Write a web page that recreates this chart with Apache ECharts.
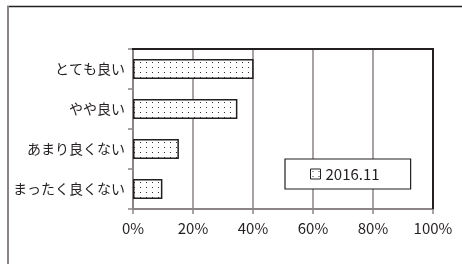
<!DOCTYPE html>
<html>
<head>
<meta charset="utf-8">
<script src="https://cdn.jsdelivr.net/npm/echarts@6/dist/echarts.min.js"></script>
<style>html,body{margin:0;padding:0;background:#fff;}#c{width:462px;height:264px;}</style>
</head>
<body>
<div id="c"></div>
<script>
var categories = ['とても良い', 'やや良い', 'あまり良くない', 'まったく良くない'];
var seriesName = '2016.11';
var values = [40.2, 34.8, 15.3, 9.8];
var xTicks = [0, 20, 40, 60, 80, 100];

var FONT = '"Noto Sans CJK JP", "Noto Sans", sans-serif';
var TXT = '#231f20';

function makePattern() {
  var cv = document.createElement('canvas');
  cv.width = 6; cv.height = 5;
  var ctx = cv.getContext('2d');
  ctx.fillStyle = '#ffffff';
  ctx.fillRect(0, 0, 6, 5);
  ctx.fillStyle = '#333333';
  ctx.fillRect(2, 2, 1, 1);
  return { image: cv, repeat: 'repeat' };
}
var pat = makePattern();

var chart = echarts.init(document.getElementById('c'), null, { renderer: 'canvas' });
chart.setOption({
  animation: false,
  backgroundColor: '#fff',
  graphic: [
    { type: 'line', shape: { x1: 7, y1: 6.5, x2: 462, y2: 6.5 }, style: { stroke: '#231f20', lineWidth: 1.5 }, z: 10 },
    { type: 'line', shape: { x1: 8, y1: 6, x2: 8, y2: 264 }, style: { stroke: '#8a8486', lineWidth: 2 }, z: 10 },
    { type: 'line', shape: { x1: 132, y1: 49, x2: 434, y2: 49 }, style: { stroke: '#231f20', lineWidth: 2 }, z: 10 },
    { type: 'line', shape: { x1: 433, y1: 48, x2: 433, y2: 209 }, style: { stroke: '#231f20', lineWidth: 2 }, z: 10 }
  ],
  grid: { left: 133, right: 29, top: 49, bottom: 55, show: false },
  legend: {
    left: 285, top: 159,
    padding: [6, 31, 6, 25],
    borderColor: '#231f20', borderWidth: 1.2,
    backgroundColor: '#fff',
    itemWidth: 10, itemHeight: 10, itemGap: 0,
    icon: 'rect',
    itemStyle: { color: pat, borderColor: '#231f20', borderWidth: 1 },
    textStyle: { fontFamily: FONT, fontSize: 15, color: TXT, lineHeight: 18, padding: [0, 0, 0, 0] },
    data: [seriesName]
  },
  xAxis: {
    type: 'value', min: 0, max: 100, interval: 20,
    axisLine: { show: true, lineStyle: { color: '#8a8486', width: 2 } },
    axisTick: { show: true, length: 5, lineStyle: { color: '#8a8486', width: 1.5 } },
    splitLine: { show: true, lineStyle: { color: '#8a8486', width: 1.5 } },
    axisLabel: { fontFamily: FONT, fontSize: 15, color: TXT, margin: 12, formatter: function (v) { return xTicks.indexOf(v) >= 0 ? v + '%' : ''; } }
  },
  yAxis: {
    type: 'category', data: categories, inverse: true,
    axisLine: { show: true, lineStyle: { color: '#8a8486', width: 2 } },
    axisTick: { show: true, length: 5, alignWithLabel: false, lineStyle: { color: '#8a8486', width: 1.5 } },
    splitLine: { show: false },
    axisLabel: { fontFamily: FONT, fontSize: 14, color: TXT, margin: 8 }
  },
  series: [{
    type: 'bar', name: seriesName, data: values, barWidth: 20,
    itemStyle: { color: pat, borderColor: '#231f20', borderWidth: 1.5 },
    z: 3
  }]
});
</script>
</body>
</html>
